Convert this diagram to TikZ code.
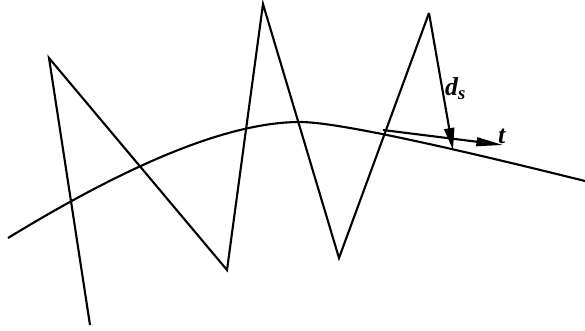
\documentclass[tikz,border=0pt]{standalone}
\usepackage{fontspec}
\setmainfont{Liberation Serif}
\usetikzlibrary{arrows.meta}
\begin{document}
\begin{tikzpicture}[x=0.03cm,y=-0.03cm,
  stroke/.style={line width=1.8pt,line join=miter,line cap=butt},
  vec/.style={stroke,-{Triangle[length=0.66cm,width=0.3cm]}},
  lbl/.style={font=\fontsize{22}{26}\selectfont\bfseries\itshape,inner sep=0pt}]
\useasboundingbox (0,0) rectangle (585,330);
% zigzag corner points
\coordinate (z0) at (90,325);
\coordinate (z1) at (49,58);
\coordinate (z2) at (227,270);
\coordinate (z3) at (263,4);
\coordinate (z4) at (339,258);
\coordinate (z5) at (429,13);
\coordinate (z6) at (453,150);
% curve
\coordinate (c0) at (8,238);
\coordinate (c1) at (300,122);
\coordinate (c2) at (585,181);
\draw[stroke] (c0) .. controls (134,161) and (231,122) .. (c1)
  .. controls (333,122) and (428,142) .. (c2);
\draw[stroke] (z0) -- (z1) -- (z2) -- (z3) -- (z4) -- (z5);
\draw[vec] (z5) -- (z6);
% tangent
\coordinate (p) at (383,130);
\coordinate (q) at (503,145);
\draw[vec,-{Triangle[length=0.8cm,width=0.26cm]}] (p) -- (q);
\node[lbl,anchor=base west] (ds) at (445,95) {d\raisebox{-0.35ex}{\fontsize{16}{18}\selectfont s}};
\node[lbl,anchor=base west] (t) at (498,143) {t};
\end{tikzpicture}
\end{document}
